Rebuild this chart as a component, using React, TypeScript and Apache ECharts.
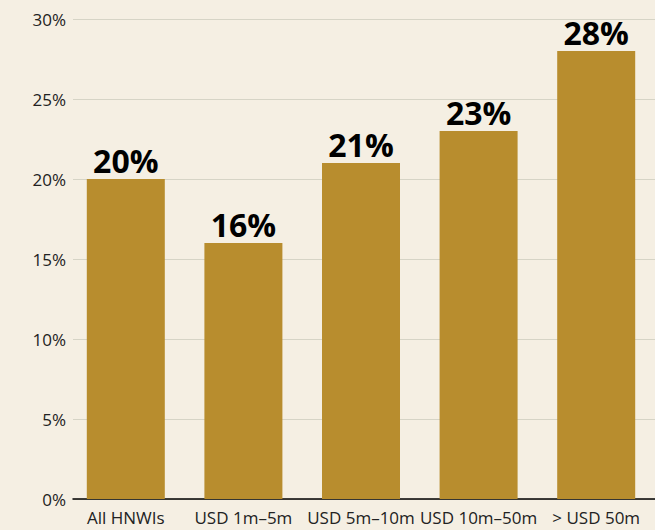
import React, { useEffect, useRef } from "react";
import * as echarts from "echarts";

const categories = ["All HNWIs", "USD 1m–5m", "USD 5m–10m", "USD 10m–50m", "> USD 50m"];
const values = [20, 16, 21, 23, 28];
const yTicks = [0, 5, 10, 15, 20, 25, 30];

export default function App() {
  const ref = useRef<HTMLDivElement>(null);
  useEffect(() => {
    const chart = echarts.init(ref.current!, null, { renderer: "svg" });
    const yMin = yTicks[0];
    const yMax = yTicks[yTicks.length - 1];
    chart.setOption({
      animation: false,
      backgroundColor: "#f5efe3",
      textStyle: { fontFamily: "Open Sans" },
      grid: [
        { left: 73, right: 0, top: 19, bottom: 31 },
        { left: 67, right: -3, top: 19, bottom: 31 },
      ],
      xAxis: [
        {
          gridIndex: 0,
          type: "category",
          data: categories,
          axisLine: { lineStyle: { color: "#000", width: 1.5 } },
          axisTick: { show: false },
          axisLabel: { show: false },
        },
        {
          gridIndex: 1,
          type: "category",
          data: categories,
          axisLine: { show: false },
          axisTick: { show: false },
          axisLabel: { color: "#222", fontSize: 17, margin: 10, interval: 0 },
        },
      ],
      yAxis: [
        {
          gridIndex: 0,
          type: "value",
          min: yMin,
          max: yMax,
          interval: 5,
          axisLabel: { color: "#222", fontSize: 17, formatter: "{value}%", margin: 7 },
          splitLine: { lineStyle: { color: "#d6d4c6", width: 1.2 } },
          axisLine: { show: false },
          axisTick: { show: false },
        },
        {
          gridIndex: 1,
          type: "value",
          min: yMin,
          max: yMax,
          interval: 5,
          show: false,
          splitLine: { show: false },
        },
      ],
      series: [
        {
          type: "bar",
          xAxisIndex: 1,
          yAxisIndex: 1,
          data: values,
          barWidth: 78,
          itemStyle: { color: "#b88d2e" },
          z: 1,
          label: {
            show: true,
            position: "top",
            formatter: "{c}%",
            color: "#000",
            fontSize: 32,
            fontWeight: "bold",
            distance: 3,
          },
        },
      ],
    });
    return () => chart.dispose();
  }, []);
  return <div ref={ref} style={{ width: 655, height: 530, position: "fixed", left: 0, top: 0 }} />;
}
